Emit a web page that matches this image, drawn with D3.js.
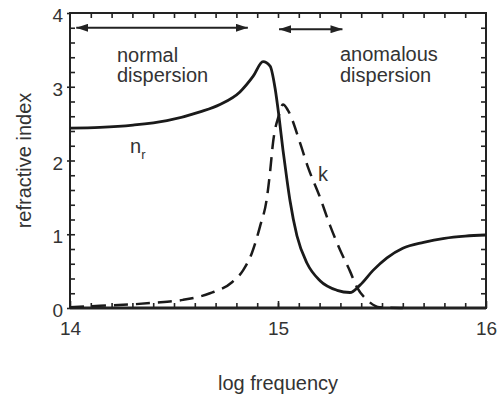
<!DOCTYPE html>
<html>
<head>
<meta charset="utf-8">
<script src="https://cdn.jsdelivr.net/npm/d3@7"></script>
<style>
  body { margin: 0; background: #fff; }
  text { font-family: "Liberation Sans", Arial, sans-serif; fill: #333; }
</style>
</head>
<body>
<div id="chart"></div>
<script>
let w = 497;
let h = 399;
let margin = {top: 13, right: 11, bottom: 91, left: 70};

// values
let nrFreq = [14.0, 14.144, 14.303, 14.466, 14.625, 14.721, 14.817, 14.88, 14.928, 14.962, 14.986, 15.005, 15.024, 15.043, 15.058, 15.091, 15.139, 15.202, 15.284, 15.346, 15.394, 15.457, 15.524, 15.60, 15.70, 15.80, 15.90, 16.0];
let nrValue = [2.44, 2.45, 2.48, 2.54, 2.66, 2.76, 2.93, 3.14, 3.34, 3.28, 2.98, 2.59, 2.14, 1.74, 1.45, 0.98, 0.61, 0.37, 0.24, 0.21, 0.31, 0.51, 0.68, 0.81, 0.89, 0.945, 0.975, 0.99];

let kFreq = [14.0, 14.144, 14.303, 14.40, 14.543, 14.673, 14.779, 14.832, 14.875, 14.913, 14.947, 14.962, 14.976, 15.005, 15.024, 15.048, 15.106, 15.144, 15.202, 15.25, 15.298, 15.346, 15.38, 15.428, 15.49, 15.6];
let kValue = [0.01, 0.03, 0.05, 0.07, 0.11, 0.2, 0.35, 0.51, 0.75, 1.1, 1.5, 1.85, 2.24, 2.62, 2.76, 2.68, 2.24, 1.91, 1.5, 1.12, 0.79, 0.5, 0.28, 0.11, 0.01, 0.0];

let xMajor = [14, 15, 16];
let yMajor = [0, 1, 2, 3, 4];

let svg = d3.select("#chart")
  .append("svg")
  .attr("width", w)
  .attr("height", h);

let pw = w - margin.left - margin.right;
let ph = h - margin.top - margin.bottom;

let xScale = d3.scaleLinear().domain([14, 16]).range([margin.left, margin.left + pw]);
let yScale = d3.scaleLinear().domain([0, 4]).range([margin.top + ph, margin.top]);

let xMinor = d3.range(1, 20).map(i => 14 + i / 10);
let yMinor = d3.range(1, 20).map(i => i / 5);

// frame first, ticks over it
svg.append("rect")
  .attr("x", margin.left)
  .attr("y", margin.top)
  .attr("width", pw)
  .attr("height", ph)
  .attr("fill", "none")
  .attr("stroke", "#222")
  .attr("stroke-width", 2);
svg.append("line")
  .attr("x1", margin.left).attr("x2", margin.left + pw)
  .attr("y1", margin.top + ph).attr("y2", margin.top + ph)
  .attr("stroke", "#222").attr("stroke-width", 3);

// bottom axis with labels
let bottomG = svg.append("g").attr("transform", "translate(0," + (margin.top + ph) + ")");
bottomG.call(d3.axisBottom(xScale).tickValues(xMajor).tickSizeInner(-7).tickSizeOuter(0).tickPadding(14).tickFormat(d3.format("d")));
bottomG.call(g => g.select(".domain").remove());
bottomG.append("g").call(d3.axisBottom(xScale).tickValues(xMinor).tickSizeInner(-5).tickSizeOuter(0).tickFormat(""))
  .call(g => g.select(".domain").remove());

// top axis minor ticks
let topG = svg.append("g").attr("transform", "translate(0," + margin.top + ")");
topG.call(d3.axisTop(xScale).tickValues(xMinor).tickSizeInner(-5).tickSizeOuter(0).tickFormat(""))
  .call(g => g.select(".domain").remove());

// left axis
let leftG = svg.append("g").attr("transform", "translate(" + margin.left + ",0)");
leftG.call(d3.axisLeft(yScale).tickValues(yMajor).tickSizeInner(3).tickSizeOuter(0).tickPadding(4).tickFormat(d3.format("d")));
leftG.call(g => g.select(".domain").remove());
leftG.selectAll(".tick text").attr("dy", "0.45em");
leftG.append("g").call(d3.axisLeft(yScale).tickValues(yMinor).tickSizeInner(-5).tickSizeOuter(0).tickFormat(""))
  .call(g => g.select(".domain").remove());

// right axis ticks
let rightG = svg.append("g").attr("transform", "translate(" + (margin.left + pw) + ",0)");
rightG.call(d3.axisRight(yScale).tickValues(yMinor).tickSizeInner(-5).tickSizeOuter(0).tickFormat(""))
  .call(g => g.select(".domain").remove());

svg.selectAll(".tick line").attr("stroke", "#222").attr("stroke-width", 1.6);
svg.selectAll(".tick text").attr("font-size", 19).attr("fill", "#333")
  .attr("font-family", "Liberation Sans, Arial, sans-serif");

// curves
let nrData = nrFreq.map((f, i) => ({f: f, v: nrValue[i]}));
let kData = kFreq.map((f, i) => ({f: f, v: kValue[i]}));

let line = d3.line()
  .x(d => xScale(d.f))
  .y(d => yScale(d.v))
  .curve(d3.curveMonotoneX);

svg.append("path")
  .datum(kData)
  .attr("d", line)
  .attr("fill", "none")
  .attr("stroke", "#1a1a1a")
  .attr("stroke-width", 2.5)
  .attr("stroke-dasharray", "14,8");

svg.append("path")
  .datum(nrData)
  .attr("d", line)
  .attr("fill", "none")
  .attr("stroke", "#1a1a1a")
  .attr("stroke-width", 2.8);

// arrows
svg.append("defs").append("marker")
  .attr("id", "head")
  .attr("viewBox", "0 0 12 8")
  .attr("refX", 12)
  .attr("refY", 4)
  .attr("markerWidth", 12)
  .attr("markerHeight", 8)
  .attr("markerUnits", "userSpaceOnUse")
  .attr("orient", "auto-start-reverse")
  .append("path")
  .attr("d", "M0,0 L12,4 L0,8 Z")
  .attr("fill", "#222");

let arrows = [[14.03, 14.855, 3.8], [15.005, 15.31, 3.78]];
svg.selectAll(".arrow").data(arrows).enter()
  .append("line")
  .attr("class", "arrow")
  .attr("x1", d => xScale(d[0]))
  .attr("x2", d => xScale(d[1]))
  .attr("y1", d => yScale(d[2]))
  .attr("y2", d => yScale(d[2]))
  .attr("stroke", "#222")
  .attr("stroke-width", 2)
  .attr("marker-start", "url(#head)")
  .attr("marker-end", "url(#head)");

// annotations
let notes = svg.append("g").attr("font-size", 20);
notes.append("text").attr("x", 117).attr("y", 62).text("normal");
notes.append("text").attr("x", 117).attr("y", 82).text("dispersion");
notes.append("text").attr("x", 340).attr("y", 61).text("anomalous");
notes.append("text").attr("x", 340).attr("y", 82).text("dispersion");

let nr = notes.append("text").attr("x", 130).attr("y", 153);
nr.append("tspan").attr("fill", "#333").text("n");
nr.append("tspan").attr("fill", "#333").attr("font-size", 13).attr("dy", 6).text("r");
notes.append("text").attr("x", 318).attr("y", 181).text("k");

// axis titles
svg.append("text")
  .attr("x", (margin.left + margin.left + pw) / 2)
  .attr("y", 390)
  .attr("text-anchor", "middle")
  .attr("font-size", 20)
  .text("log frequency");

svg.append("text")
  .attr("transform", "translate(31," + (margin.top + ph / 2) + ") rotate(-90)")
  .attr("text-anchor", "middle")
  .attr("font-size", 20)
  .text("refractive index");
</script>
</body>
</html>
